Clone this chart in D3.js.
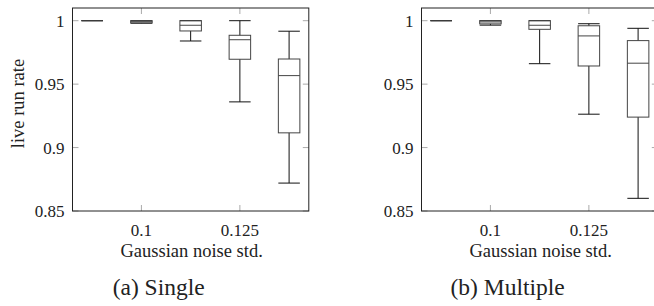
<!DOCTYPE html>
<html>
<head>
<meta charset="utf-8">
<script src="https://cdn.jsdelivr.net/npm/d3@7"></script>
<style>
  html, body { margin: 0; padding: 0; background: #fff; }
  svg { display: block; }
</style>
</head>
<body>
<svg id="chart" width="654" height="306"></svg>
<script>
// Noise std positions (categories)
const categories = [0.0875, 0.1, 0.1125, 0.125, 0.1375];
const xTickValues = [0.1, 0.125];
const xTickLabels = ["0.1", "0.125"];
const yTickValues = [0.85, 0.9, 0.95, 1];
const yTickLabels = ["0.85", "0.9", "0.95", "1"];

// (a) Single
const singleMin = [1.0, 0.998, 0.984, 0.936, 0.872];
const singleQ1  = [1.0, 0.9982, 0.9919, 0.9696, 0.9116];
const singleMed = [1.0, 0.9992, 0.9964, 0.985, 0.9567];
const singleQ3  = [1.0, 1.0, 1.0, 0.9885, 0.9698];
const singleMax = [1.0, 1.0, 1.0, 1.0, 0.9917];

// (b) Multiple
const multipleMin = [1.0, 0.9965, 0.9661, 0.9263, 0.860];
const multipleQ1  = [1.0, 0.9975, 0.9932, 0.9643, 0.924];
const multipleMed = [1.0, 0.999, 0.9964, 0.988, 0.9665];
const multipleQ3  = [1.0, 1.0, 1.0, 0.996, 0.9843];
const multipleMax = [1.0, 1.0, 1.0, 0.9976, 0.994];

const FONT = "'Liberation Serif', 'Times New Roman', 'DejaVu Serif', serif";
const svg = d3.select("#chart").attr("font-family", FONT);
const plotW = 236.3, plotH = 203;
const x = d3.scaleLinear().domain([0.0825, 0.1425]).range([0, plotW]);
const y = d3.scaleLinear().domain([0.85, 1.01]).range([plotH, 0]);
const halfBox = 0.00273;
const TICK_FS = 17, LABEL_FS = 18.5, CAP_FS = 23.5;

function panel(left, top, mins, q1s, meds, q3s, maxs, caption, showYLabel) {
  const g = svg.append("g").attr("transform", `translate(${left},${top})`);

  // inward ticks (gray), all four sides
  const tickLen = 6, tickColor = "#aaa";
  yTickValues.forEach(v => {
    g.append("line").attr("x1", 0).attr("x2", tickLen).attr("y1", y(v)).attr("y2", y(v))
      .attr("stroke", tickColor);
    g.append("line").attr("x1", plotW - tickLen).attr("x2", plotW).attr("y1", y(v)).attr("y2", y(v))
      .attr("stroke", tickColor);
  });
  xTickValues.forEach(v => {
    g.append("line").attr("x1", x(v)).attr("x2", x(v)).attr("y1", plotH).attr("y2", plotH - tickLen)
      .attr("stroke", tickColor);
    g.append("line").attr("x1", x(v)).attr("x2", x(v)).attr("y1", 0).attr("y2", tickLen)
      .attr("stroke", tickColor);
  });

  // y tick labels
  yTickValues.forEach((v, i) => {
    g.append("text").attr("x", -8).attr("y", y(v)).attr("dy", "0.35em")
      .attr("text-anchor", "end").attr("font-size", TICK_FS).attr("fill", "#222")
      .attr("font-family", FONT).text(yTickLabels[i]);
  });
  // x tick labels
  xTickValues.forEach((v, i) => {
    g.append("text").attr("x", x(v)).attr("y", plotH + 24.5)
      .attr("text-anchor", "middle").attr("font-size", TICK_FS).attr("fill", "#222")
      .attr("font-family", FONT).text(xTickLabels[i]);
  });

  // boxes
  categories.forEach((c, i) => {
    const x0 = x(c - halfBox), x1 = x(c + halfBox), xc = x(c);
    g.append("line").attr("x1", xc).attr("x2", xc).attr("y1", y(maxs[i])).attr("y2", y(q3s[i]))
      .attr("stroke", "#111").attr("stroke-width", 1);
    g.append("line").attr("x1", xc).attr("x2", xc).attr("y1", y(q1s[i])).attr("y2", y(mins[i]))
      .attr("stroke", "#111").attr("stroke-width", 1);
    g.append("line").attr("x1", x0).attr("x2", x1).attr("y1", y(maxs[i])).attr("y2", y(maxs[i]))
      .attr("stroke", "#111").attr("stroke-width", 1);
    g.append("line").attr("x1", x0).attr("x2", x1).attr("y1", y(mins[i])).attr("y2", y(mins[i]))
      .attr("stroke", "#111").attr("stroke-width", 1);
    g.append("rect").attr("x", x0).attr("y", y(q3s[i]))
      .attr("width", x1 - x0).attr("height", Math.max(0, y(q1s[i]) - y(q3s[i])))
      .attr("fill", "none").attr("stroke", "#444").attr("stroke-width", 1);
    g.append("line").attr("x1", x0).attr("x2", x1).attr("y1", y(meds[i])).attr("y2", y(meds[i]))
      .attr("stroke", "#444").attr("stroke-width", 1);
  });

  // frame
  g.append("rect").attr("x", 0).attr("y", 0).attr("width", plotW).attr("height", plotH)
    .attr("fill", "none").attr("stroke", "#222").attr("stroke-width", 1);

  // x axis label
  g.append("text").attr("x", plotW / 2 + 1).attr("y", plotH + 46)
    .attr("text-anchor", "middle").attr("font-size", LABEL_FS).attr("fill", "#222")
    .attr("font-family", FONT).text("Gaussian noise std.");

  // caption
  g.append("text").attr("x", plotW / 2 - 32).attr("y", plotH + 84)
    .attr("text-anchor", "middle").attr("font-size", CAP_FS).attr("fill", "#222")
    .attr("font-family", FONT).text(caption);

  if (showYLabel) {
    g.append("text")
      .attr("transform", `translate(${-48.5},${plotH / 2 - 6}) rotate(-90)`)
      .attr("text-anchor", "middle").attr("font-size", LABEL_FS).attr("fill", "#222")
      .attr("font-family", FONT).text("live run rate");
  }
}

panel(72.5, 8, singleMin, singleQ1, singleMed, singleQ3, singleMax, "(a) Single", true);
panel(421.5, 8, multipleMin, multipleQ1, multipleMed, multipleQ3, multipleMax, "(b) Multiple", false);
</script>
</body>
</html>
